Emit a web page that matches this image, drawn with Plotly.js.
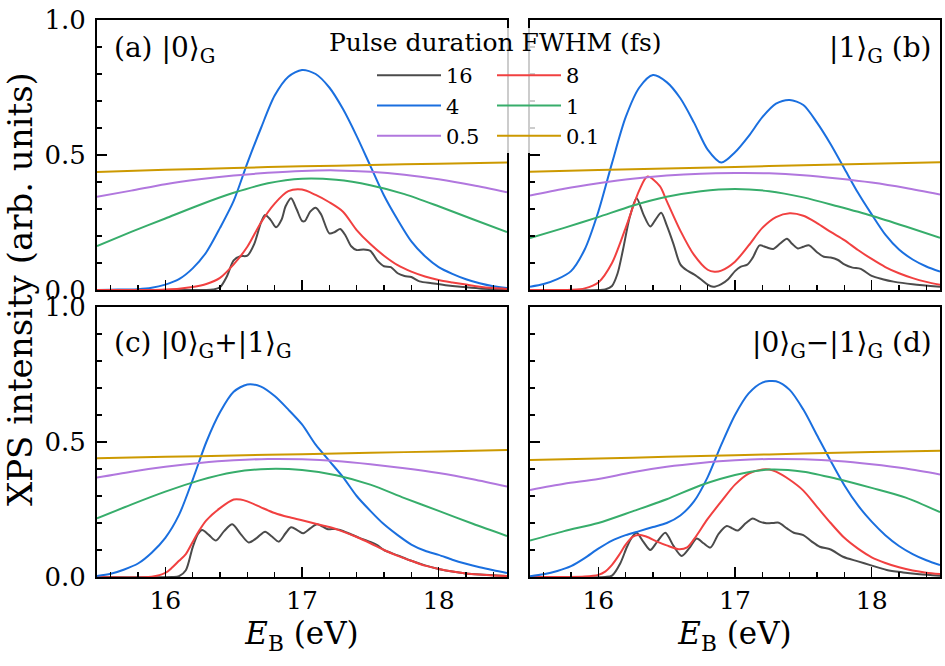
<!DOCTYPE html>
<html><head><meta charset="utf-8">
<script src="https://cdn.plot.ly/plotly-3.0.1.min.js"></script>
<style>html,body{margin:0;padding:0;background:#fff}#chart{width:945px;height:666px}</style>
</head><body><div id="chart"></div>
<script>
// ---------- data ----------
const durations = ['16', '8', '4', '1', '0.5', '0.1'];
const panelLabels = ['(a) |0⟩<sub>G</sub>', '|1⟩<sub>G</sub> (b)', '(c) |0⟩<sub>G</sub>+|1⟩<sub>G</sub>', '|0⟩<sub>G</sub>−|1⟩<sub>G</sub> (d)'];
const xTickVals = [16, 17, 18];
const yTickVals = [0, 0.5, 1.0];

const E_GOLD = [15.5, 16, 16.5, 17, 17.5, 18, 18.5];
const E_GRID = [15.5, 15.75, 16, 16.25, 16.5, 16.75, 17, 17.25, 17.5, 17.75, 18, 18.25, 18.5];
const E_FINE = [15.5, 15.6, 15.7, 15.8, 15.9, 16, 16.1, 16.2, 16.3, 16.4, 16.5, 16.6, 16.7, 16.8, 16.9, 17, 17.1, 17.2, 17.3, 17.4, 17.5, 17.6, 17.7, 17.8, 17.9, 18, 18.1, 18.2, 18.3, 18.4, 18.5];

// panel (a) |0>
const a_01 = [0.437, 0.445, 0.452, 0.458, 0.463, 0.468, 0.472];
const a_05 = [0.345, 0.368, 0.392, 0.41, 0.424, 0.434, 0.441, 0.443, 0.438, 0.427, 0.41, 0.388, 0.362];
const a_1 = [0.163, 0.215, 0.265, 0.315, 0.36, 0.395, 0.412, 0.408, 0.388, 0.355, 0.31, 0.262, 0.215];
const a_4 = [0, 0.001, 0.002, 0.003, 0.008, 0.02, 0.04, 0.08, 0.14, 0.23, 0.33, 0.47, 0.6, 0.72, 0.79, 0.815, 0.8, 0.75, 0.67, 0.57, 0.46, 0.35, 0.26, 0.18, 0.125, 0.085, 0.06, 0.04, 0.025, 0.014, 0.007];
const a_8 = [0, 0, 0, 0, 0, 0.002, 0.005, 0.011, 0.022, 0.045, 0.095, 0.16, 0.25, 0.32, 0.366, 0.372, 0.352, 0.325, 0.29, 0.222, 0.17, 0.127, 0.092, 0.068, 0.05, 0.037, 0.028, 0.02, 0.012, 0.007, 0.004];
const a_16E = [15.5, 16.0, 16.3, 16.35, 16.4, 16.45, 16.5, 16.55, 16.6, 16.65, 16.7, 16.73, 16.77, 16.81, 16.85, 16.88, 16.92, 16.96, 17.0, 17.02, 17.06, 17.1, 17.14, 17.2, 17.24, 17.28, 17.32, 17.36, 17.4, 17.45, 17.5, 17.55, 17.6, 17.65, 17.7, 17.75, 17.8, 17.86, 17.95, 18.05, 18.16, 18.3, 18.5];
const a_16 = [0, 0, 0, 0.002, 0.01, 0.05, 0.11, 0.125, 0.127, 0.17, 0.25, 0.278, 0.26, 0.232, 0.26, 0.31, 0.34, 0.3, 0.256, 0.255, 0.29, 0.305, 0.28, 0.21, 0.215, 0.226, 0.2, 0.162, 0.148, 0.15, 0.145, 0.11, 0.088, 0.085, 0.062, 0.052, 0.048, 0.032, 0.025, 0.018, 0.012, 0.006, 0.002];

// panel (b) |1>
const b_01 = [0.438, 0.444, 0.45, 0.456, 0.462, 0.468, 0.473];
const b_05 = [0.35, 0.375, 0.395, 0.412, 0.424, 0.431, 0.433, 0.432, 0.425, 0.413, 0.398, 0.378, 0.354];
const b_1 = [0.192, 0.23, 0.27, 0.312, 0.345, 0.366, 0.374, 0.366, 0.343, 0.31, 0.275, 0.235, 0.193];
const b_4 = [0.012, 0.022, 0.04, 0.07, 0.15, 0.29, 0.47, 0.64, 0.75, 0.796, 0.77, 0.71, 0.62, 0.52, 0.472, 0.51, 0.57, 0.64, 0.69, 0.704, 0.685, 0.62, 0.54, 0.45, 0.36, 0.28, 0.205, 0.15, 0.113, 0.087, 0.068];
const b_8E = [15.5, 15.8, 15.9, 16.0, 16.1, 16.2, 16.3, 16.36, 16.45, 16.5, 16.6, 16.7, 16.8, 16.85, 16.9, 17.0, 17.1, 17.2, 17.3, 17.4, 17.5, 17.6, 17.7, 17.8, 17.9, 18.0, 18.1, 18.2, 18.3, 18.4, 18.5];
const b_8 = [0, 0.001, 0.006, 0.028, 0.1, 0.23, 0.37, 0.42, 0.385, 0.33, 0.22, 0.13, 0.075, 0.068, 0.072, 0.105, 0.165, 0.23, 0.27, 0.284, 0.275, 0.248, 0.215, 0.185, 0.148, 0.115, 0.085, 0.062, 0.044, 0.03, 0.019];
const b_16E = [15.5, 16.0, 16.05, 16.1, 16.14, 16.18, 16.23, 16.28, 16.33, 16.38, 16.42, 16.46, 16.5, 16.55, 16.6, 16.65, 16.7, 16.75, 16.8, 16.84, 16.9, 16.95, 17.0, 17.04, 17.09, 17.13, 17.18, 17.23, 17.28, 17.33, 17.38, 17.42, 17.46, 17.5, 17.54, 17.6, 17.65, 17.7, 17.75, 17.8, 17.86, 17.92, 18.0, 18.08, 18.16, 18.3, 18.5];
const b_16 = [0, 0, 0.002, 0.015, 0.06, 0.148, 0.27, 0.34, 0.28, 0.235, 0.262, 0.286, 0.24, 0.17, 0.095, 0.072, 0.058, 0.04, 0.02, 0.012, 0.022, 0.04, 0.07, 0.086, 0.094, 0.12, 0.165, 0.158, 0.152, 0.172, 0.19, 0.17, 0.154, 0.16, 0.166, 0.14, 0.123, 0.12, 0.112, 0.095, 0.083, 0.078, 0.052, 0.04, 0.031, 0.021, 0.012];

// panel (c) |0>+|1>
const c_01 = [0.44, 0.445, 0.45, 0.455, 0.46, 0.465, 0.47];
const c_05 = [0.368, 0.39, 0.408, 0.422, 0.432, 0.437, 0.436, 0.43, 0.418, 0.403, 0.385, 0.362, 0.335];
const c_1 = [0.217, 0.268, 0.316, 0.358, 0.388, 0.4, 0.396, 0.377, 0.342, 0.292, 0.245, 0.197, 0.152];
const c_4 = [0.004, 0.012, 0.028, 0.05, 0.09, 0.145, 0.23, 0.36, 0.5, 0.61, 0.686, 0.713, 0.705, 0.67, 0.62, 0.565, 0.49, 0.43, 0.37, 0.3, 0.245, 0.195, 0.155, 0.12, 0.097, 0.082, 0.064, 0.049, 0.036, 0.025, 0.015];
const c_8E = [15.5, 15.9, 16.0, 16.05, 16.1, 16.15, 16.2, 16.25, 16.3, 16.4, 16.5, 16.55, 16.6, 16.7, 16.8, 16.9, 17.0, 17.1, 17.2, 17.3, 17.4, 17.5, 17.6, 17.7, 17.8, 17.9, 18.0, 18.1, 18.2, 18.3, 18.4, 18.5];
const c_8 = [0, 0.001, 0.015, 0.035, 0.06, 0.085, 0.13, 0.174, 0.21, 0.255, 0.287, 0.287, 0.28, 0.258, 0.237, 0.222, 0.21, 0.197, 0.185, 0.168, 0.148, 0.125, 0.1, 0.078, 0.06, 0.042, 0.03, 0.02, 0.013, 0.009, 0.006, 0.004];
const c_16E = [15.5, 16.05, 16.1, 16.15, 16.2, 16.24, 16.27, 16.32, 16.37, 16.43, 16.49, 16.55, 16.61, 16.67, 16.73, 16.78, 16.83, 16.88, 16.92, 16.97, 17.01, 17.06, 17.11, 17.15, 17.19, 17.24, 17.28, 17.35, 17.42, 17.5, 17.55, 17.6, 17.7, 17.8, 17.9, 18.0, 18.1, 18.2, 18.3, 18.5];
const c_16 = [0, 0, 0.003, 0.025, 0.11, 0.16, 0.174, 0.155, 0.135, 0.17, 0.195, 0.16, 0.128, 0.145, 0.168, 0.15, 0.131, 0.162, 0.184, 0.172, 0.162, 0.18, 0.195, 0.187, 0.177, 0.178, 0.174, 0.16, 0.145, 0.13, 0.118, 0.1, 0.08, 0.06, 0.043, 0.03, 0.02, 0.013, 0.009, 0.004];

// panel (d) |0>-|1>
const d_01 = [0.433, 0.439, 0.445, 0.451, 0.457, 0.463, 0.468];
const d_05 = [0.322, 0.345, 0.363, 0.388, 0.408, 0.422, 0.432, 0.437, 0.436, 0.43, 0.418, 0.402, 0.38];
const d_1 = [0.135, 0.17, 0.2, 0.243, 0.288, 0.34, 0.378, 0.398, 0.39, 0.363, 0.33, 0.294, 0.24];
const d_4 = [0.003, 0.01, 0.022, 0.04, 0.07, 0.105, 0.135, 0.155, 0.17, 0.185, 0.2, 0.228, 0.28, 0.37, 0.49, 0.6, 0.68, 0.72, 0.725, 0.693, 0.62, 0.525, 0.43, 0.34, 0.265, 0.205, 0.155, 0.115, 0.085, 0.062, 0.044];
const d_8E = [15.5, 15.9, 16.0, 16.05, 16.1, 16.15, 16.2, 16.25, 16.29, 16.35, 16.43, 16.5, 16.59, 16.65, 16.7, 16.8, 16.9, 17.0, 17.1, 17.2, 17.25, 17.3, 17.4, 17.5, 17.6, 17.7, 17.8, 17.9, 18.0, 18.1, 18.2, 18.3, 18.4, 18.5];
const d_8 = [0, 0.002, 0.008, 0.02, 0.045, 0.08, 0.12, 0.148, 0.156, 0.15, 0.131, 0.117, 0.103, 0.11, 0.14, 0.215, 0.28, 0.342, 0.383, 0.398, 0.398, 0.39, 0.36, 0.32, 0.26, 0.2, 0.145, 0.105, 0.073, 0.052, 0.036, 0.024, 0.016, 0.011];
const d_16E = [15.5, 16.05, 16.1, 16.16, 16.21, 16.25, 16.28, 16.33, 16.38, 16.43, 16.49, 16.55, 16.61, 16.67, 16.72, 16.77, 16.82, 16.88, 16.94, 16.98, 17.02, 17.08, 17.13, 17.18, 17.23, 17.28, 17.32, 17.38, 17.43, 17.5, 17.56, 17.62, 17.7, 17.79, 17.9, 17.99, 18.11, 18.23, 18.35, 18.5];
const d_16 = [0, 0, 0.005, 0.05, 0.112, 0.15, 0.164, 0.13, 0.1, 0.13, 0.164, 0.115, 0.078, 0.11, 0.143, 0.125, 0.109, 0.16, 0.189, 0.18, 0.172, 0.2, 0.217, 0.205, 0.199, 0.2, 0.201, 0.18, 0.164, 0.155, 0.132, 0.112, 0.102, 0.075, 0.058, 0.044, 0.026, 0.017, 0.01, 0.005];

// ---------- styling ----------
const COLORS = {'16': '#4b4b4b', '8': '#f14040', '4': '#1a6fdf', '1': '#37ad6b', '0.5': '#b177de', '0.1': '#cc9900'};
const FONT = 'DejaVu Serif';

const panels = [
  {s: '',  d: {'16': [a_16E, a_16], '8': [E_FINE, a_8], '4': [E_FINE, a_4], '1': [E_GRID, a_1], '0.5': [E_GRID, a_05], '0.1': [E_GOLD, a_01]}},
  {s: '2', d: {'16': [b_16E, b_16], '8': [b_8E, b_8], '4': [E_FINE, b_4], '1': [E_GRID, b_1], '0.5': [E_GRID, b_05], '0.1': [E_GOLD, b_01]}},
  {s: '3', d: {'16': [c_16E, c_16], '8': [c_8E, c_8], '4': [E_FINE, c_4], '1': [E_GRID, c_1], '0.5': [E_GRID, c_05], '0.1': [E_GOLD, c_01]}},
  {s: '4', d: {'16': [d_16E, d_16], '8': [d_8E, d_8], '4': [E_FINE, d_4], '1': [E_GRID, d_1], '0.5': [E_GRID, d_05], '0.1': [E_GOLD, d_01]}}
];
const legendOf = {'16': 'legend', '4': 'legend', '0.5': 'legend', '8': 'legend2', '1': 'legend2', '0.1': 'legend2'};
const legendOrder = ['16', '4', '0.5', '8', '1', '0.1'];

const traces = [];
panels.forEach((p, i) => {
  const order = i === 0 ? legendOrder : durations;
  order.forEach(k => {
    traces.push({
      type: 'scatter', mode: 'lines', name: k,
      x: p.d[k][0], y: p.d[k][1],
      xaxis: 'x' + p.s, yaxis: 'y' + p.s,
      line: {color: COLORS[k], width: 2, shape: 'spline', smoothing: 0.8},
      showlegend: i === 0, legend: legendOf[k], hoverinfo: 'skip'
    });
  });
});

const W = 945, H = 666;
const px = v => v / W, py = v => 1 - v / H;
const xDomL = [px(97), px(507)], xDomR = [px(530), px(940)];
const yDomT = [py(290), py(20)], yDomB = [py(577), py(307)];

function xAxis(dom, anchor, labels) {
  const ax = {
    domain: dom, anchor: anchor, range: [15.5, 18.5],
    showline: true, mirror: true, linecolor: '#000', linewidth: 2,
    ticks: 'inside', ticklen: 10, tickwidth: 1.6, tickcolor: '#000',
    tickvals: xTickVals, showticklabels: labels, ticklabelstandoff: 0,
    minor: {ticks: 'inside', dtick: 0.2, tick0: 16, ticklen: 5, tickwidth: 1.3, tickcolor: '#000', showgrid: false},
    showgrid: false, zeroline: false,
    tickfont: {family: FONT, size: 25, color: '#000'}
  };
  if (labels) ax.title = {text: '<i>E</i><sub>B</sub> (eV)', font: {family: FONT, size: 31, color: '#000'}, standoff: 4};
  return ax;
}
function yAxis(dom, anchor, labels) {
  return {
    domain: dom, anchor: anchor, range: [0, 1],
    showline: true, mirror: true, linecolor: '#000', linewidth: 2,
    ticks: 'inside', ticklen: 10, tickwidth: 1.6, tickcolor: '#000',
    tickvals: yTickVals, tickformat: '.1f', showticklabels: labels, ticklabelstandoff: 4,
    minor: {ticks: 'inside', dtick: 0.1, tick0: 0, ticklen: 5, tickwidth: 1.3, tickcolor: '#000', showgrid: false},
    showgrid: false, zeroline: false,
    tickfont: {family: FONT, size: 26, color: '#000'}
  };
}

const annFont = {family: FONT, size: 28, color: '#000'};
const legFont = {family: FONT, size: 21, color: '#000'};
const layout = {
  width: W, height: H,
  margin: {l: 0, r: 0, t: 0, b: 0},
  paper_bgcolor: '#fff', plot_bgcolor: 'rgba(0,0,0,0)',
  font: {family: FONT, color: '#000'},
  xaxis: xAxis(xDomL, 'y', false), yaxis: yAxis(yDomT, 'x', true),
  xaxis2: xAxis(xDomR, 'y2', false), yaxis2: yAxis(yDomT, 'x2', false),
  xaxis3: xAxis(xDomL, 'y3', true), yaxis3: yAxis(yDomB, 'x3', true),
  xaxis4: xAxis(xDomR, 'y4', true), yaxis4: yAxis(yDomB, 'x4', false),
  legend: {x: px(372), y: py(55), xanchor: 'left', yanchor: 'top', bgcolor: 'rgba(0,0,0,0)', borderwidth: 0,
           font: legFont, itemwidth: 64, tracegroupgap: 0},
  legend2: {x: px(492), y: py(55), xanchor: 'left', yanchor: 'top', bgcolor: 'rgba(0,0,0,0)', borderwidth: 0,
            font: legFont, itemwidth: 64, tracegroupgap: 0},
  // semi-transparent legend frame only dims the inner axis spines it covers
  shapes: [{type: 'rect', xref: 'paper', yref: 'paper', x0: px(499), x1: px(546), y0: py(153), y1: py(28),
            fillcolor: 'rgba(255,255,255,0.8)', line: {width: 0}, layer: 'above'}],
  annotations: [
    {text: panelLabels[0], xref: 'paper', yref: 'paper', x: px(112), y: py(50), xanchor: 'left', yanchor: 'middle', showarrow: false, font: annFont},
    {text: panelLabels[1], xref: 'paper', yref: 'paper', x: px(934), y: py(50), xanchor: 'right', yanchor: 'middle', showarrow: false, font: annFont},
    {text: panelLabels[2], xref: 'paper', yref: 'paper', x: px(112), y: py(344), xanchor: 'left', yanchor: 'middle', showarrow: false, font: annFont},
    {text: panelLabels[3], xref: 'paper', yref: 'paper', x: px(934), y: py(344), xanchor: 'right', yanchor: 'middle', showarrow: false, font: annFont},
    {text: 'Pulse duration FWHM (fs)', xref: 'paper', yref: 'paper', x: px(495), y: py(42), xanchor: 'center', yanchor: 'middle', showarrow: false, font: {family: FONT, size: 25, color: '#000'}},
    {text: 'XPS intensity (arb. units)', xref: 'paper', yref: 'paper', x: px(20), y: py(289), xanchor: 'center', yanchor: 'middle', textangle: -90, showarrow: false, font: {family: FONT, size: 34, color: '#000'}}
  ]
};

Plotly.newPlot('chart', traces, layout, {staticPlot: true, displayModeBar: false});
</script>
</body></html>
